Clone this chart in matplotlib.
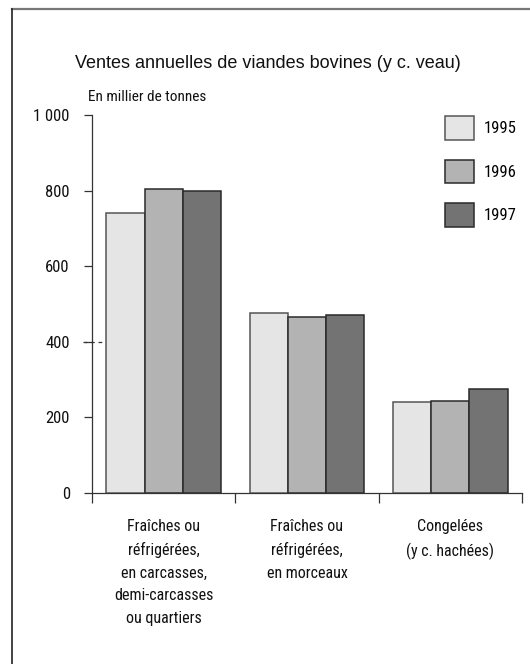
import matplotlib
matplotlib.use("Agg")
import matplotlib.pyplot as plt
from matplotlib import font_manager
from matplotlib.lines import Line2D
import numpy as np

categories = [
    "Fraîches ou\nréfrigérées,\nen carcasses,\ndemi-carcasses\nou quartiers",
    "Fraîches ou\nréfrigérées,\nen morceaux",
    "Congelées\n(y c. hachées)",
]
years = ["1995", "1996", "1997"]
v1995 = [742, 475, 242]
v1996 = [805, 465, 243]
v1997 = [799, 472, 274]
yticks = [0, 200, 400, 600, 800, 1000]
ytick_labels = ["0", "200", "400", "600", "800", "1 000"]

fills = ["#e5e5e5", "#b3b3b3", "#737373"]
edges = ["#555555", "#2a2a2a", "#2a2a2a"]

# narrow face for labels if one is there
names = {f.name for f in font_manager.fontManager.ttflist}
narrow = next((n for n in ["Liberation Sans Narrow", "Roboto Condensed", "DejaVu Sans"] if n in names), "DejaVu Sans")
print("narrow font:", narrow)
plt.rcParams["font.family"] = [narrow, "DejaVu Sans"]

fig = plt.figure(figsize=(5.3, 6.64), dpi=100)
ax = fig.add_axes([92 / 530, 1 - 493 / 664, 430 / 530, 378 / 664])

x = np.arange(len(categories))
w = 0.8 / 3
for i, (vals, yr) in enumerate(zip([v1995, v1996, v1997], years)):
    ax.bar(x + (i - 1) * w, vals, w, color=fills[i], edgecolor=edges[i],
           linewidth=1.1, label=yr, zorder=3)

ax.set_xlim(-0.5, 2.5)
ax.set_ylim(0, 1000)
for s in ["top", "right"]:
    ax.spines[s].set_visible(False)
for s in ["left", "bottom"]:
    ax.spines[s].set_color("#333333")
    ax.spines[s].set_linewidth(0.9)

ax.set_yticks(yticks)
ax.set_yticklabels(ytick_labels, fontsize=12, color="#111111")
ax.tick_params(axis="y", length=6, width=0.9, color="#333333", pad=10)

# ticks between the groups, labels centred under them
ax.set_xticks([-0.5, 0.5, 1.5, 2.5])
ax.set_xticklabels([])
ax.tick_params(axis="x", which="major", length=7.5, width=0.9, color="#333333")
ax.set_xticks(x, minor=True)
ax.set_xticklabels(categories, minor=True, fontsize=11.5, color="#111111",
                   linespacing=1.62, va="top")
ax.tick_params(axis="x", which="minor", length=0, pad=19)

# dashed bit at 400
ax.axhline(400, xmin=-9 / 430, xmax=14 / 430, color="#333333", lw=0.9,
           ls=(0, (3, 3)), clip_on=False, zorder=2)

ax.legend(loc="upper left", bbox_to_anchor=(445 / 530, 1 - 116 / 664),
          bbox_transform=fig.transFigure, frameon=False, fontsize=12,
          handlelength=1.75, handleheight=1.8, labelspacing=1.2,
          handletextpad=0.55, borderpad=0, borderaxespad=0)

fig.text(268 / 530, 1 - 63 / 664, "Ventes annuelles de viandes bovines (y c. veau)",
         ha="center", va="center", fontsize=13, family=["Liberation Sans", "DejaVu Sans"],
         color="#111111")
fig.text(88 / 530, 1 - 97 / 664, "En millier de tonnes", ha="left", va="center",
         fontsize=11, color="#111111")

# page frame: top and left edges
fig.add_artist(Line2D([12 / 530, 1], [1 - 9 / 664] * 2, transform=fig.transFigure,
                      color="#777777", lw=1.6))
fig.add_artist(Line2D([12 / 530] * 2, [0, 1 - 9 / 664], transform=fig.transFigure,
                      color="#222222", lw=1.2))

fig.savefig("out.png", dpi=100)
